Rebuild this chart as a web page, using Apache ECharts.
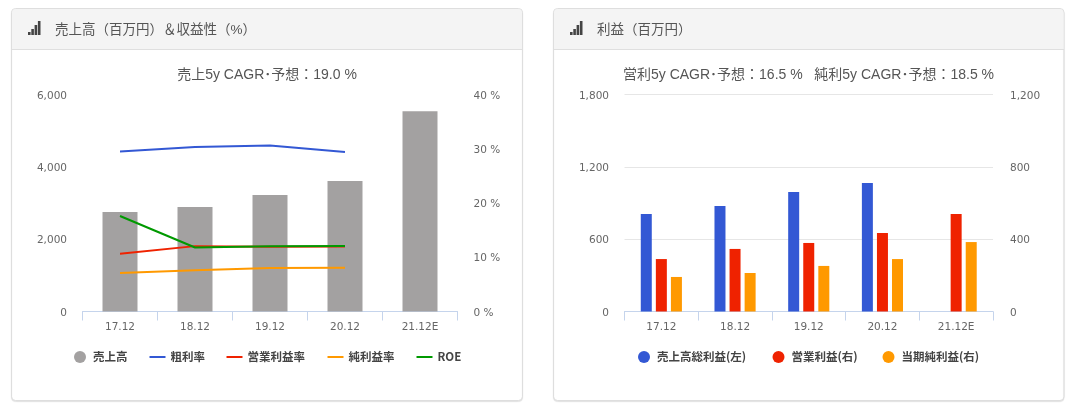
<!DOCTYPE html>
<html><head><meta charset="utf-8">
<style>html,body{margin:0;padding:0;background:#fff}#c{width:1072px;height:414px}</style>
<script src="https://cdn.jsdelivr.net/npm/echarts@6/dist/echarts.min.js"></script>
</head><body><div id="c"></div>
<script>
const categories = ['17.12','18.12','19.12','20.12','21.12E'];
const sales = [2750, 2890, 3220, 3610, 5540];
const grossMargin = [29.5, 30.3, 30.6, 29.4, null];
const opMargin = [10.65, 12.05, 11.95, 12.0, null];
const netMargin = [7.1, 7.6, 8.0, 8.07, null];
const roe = [17.6, 11.8, 12.05, 12.07, null];
const grossProfit = [809, 875, 991, 1066, null];
const opProfit = [290, 346, 379, 434, 539];
const netProfit = [191, 213, 252, 290, 384];

const CJK = '"Liberation Sans","Noto Sans CJK JP",sans-serif';
const LEG = '"Noto Sans CJK JP",sans-serif';
const TICK = '"DejaVu Sans","Noto Sans CJK JP",sans-serif';
const GRAY='#a3a1a1', BLUE='#3358d4', RED='#ef2200', ORANGE='#ff9900', GREEN='#009900';
const fmt = v => Number(v).toLocaleString('en-US');

function panel(x, w, title){
  const iconX = x + 16.5;
  const bars = [[0,3],[3.3,6],[6.6,10],[9.9,14]].map(([dx,h]) => ({
    type:'rect', silent:true, shape:{x:iconX+dx, y:35-h, width:2.6, height:h}, style:{fill:'#444'}
  }));
  return [
    {type:'rect',silent:true,shape:{x:x,y:8.5,width:w,height:392,r:4},style:{fill:'#fff',stroke:'#dedede',lineWidth:1,shadowBlur:1,shadowColor:'#e2e2e2',shadowOffsetY:1}},
    {type:'rect',silent:true,shape:{x:x+0.5,y:9,width:w-1,height:40.5,r:[4,4,0,0]},style:{fill:'#f4f4f4'}},
    {type:'line',silent:true,shape:{x1:x,y1:49.5,x2:x+w,y2:49.5},style:{stroke:'#dfdfdf',lineWidth:1}},
    ...bars,
    {type:'text',silent:true,x:x+43.5,y:30,style:{text:title,font:'13.5px '+CJK,fill:'#555',textVerticalAlign:'middle'}}
  ];
}
function legend(name,left,line){
  return {show:true,selectedMode:false,left:left,top:351,data:[name],orient:'horizontal',padding:0,
    icon:line?'rect':'circle',itemWidth:line?16:12,itemHeight:line?2:12,itemGap:0,
    textStyle:{fontFamily:LEG,fontSize:11.5,fontWeight:'bold',color:'#444',padding:[0,0,0,line?0:2],height:12,lineHeight:12}};
}
function xAxis(i){
  return {type:'category',gridIndex:i,data:categories,boundaryGap:true,
    axisLine:{show:true,lineStyle:{color:'#c5d4ec',width:1}},
    axisTick:{show:true,alignWithLabel:false,length:9,lineStyle:{color:'#c5d4ec',width:1}},
    axisLabel:{color:'#666',fontFamily:TICK,fontSize:10.5,margin:11,interval:0}};
}
function yAxis(i,max,step,pos,margin,grid,suffix){
  return {type:'value',gridIndex:i,min:0,max:max,interval:step,position:pos,
    axisLine:{show:false},axisTick:{show:false},
    splitLine:{show:grid,lineStyle:{color:'#e6e6e6',width:1}},
    axisLabel:{color:'#666',fontFamily:TICK,fontSize:10.5,margin:margin,verticalAlign:'top',lineHeight:3,
      formatter:v=>fmt(v)+(suffix||'')}};
}
function lineS(name,data,color){
  return {name,type:'line',xAxisIndex:0,yAxisIndex:1,data,symbol:'none',connectNulls:false,
    lineStyle:{color,width:2},itemStyle:{color},z:5};
}
function barS(name,data,color,yi){
  return {name,type:'bar',xAxisIndex:1,yAxisIndex:yi,data,barWidth:11,barGap:'37%',itemStyle:{color}};
}
const chart = echarts.init(document.getElementById('c'),null,{renderer:'canvas'});
chart.setOption({
  animation:false,
  backgroundColor:'#fff',
  title:[
    {text:'売上5y CAGR･予想：19.0 %',left:267,top:68,textAlign:'center',padding:0,textStyle:{fontFamily:CJK,fontSize:14,fontWeight:'normal',color:'#555'}},
    {text:'営利5y CAGR･予想：16.5 %   純利5y CAGR･予想：18.5 %',left:808.5,top:68,textAlign:'center',padding:0,textStyle:{fontFamily:CJK,fontSize:14,fontWeight:'normal',color:'#555'}}
  ],
  grid:[
    {left:82.5,top:94.5,width:375,height:217,containLabel:false},
    {left:624.5,top:94.5,width:368.5,height:217,containLabel:false}
  ],
  legend:[
    legend('売上高',74,false),legend('粗利率',149.5,true),legend('営業利益率',226.5,true),legend('純利益率',327.5,true),legend('ROE',416.5,true),
    legend('売上高総利益(左)',638,false),legend('営業利益(右)',772.5,false),legend('当期純利益(右)',882.5,false)
  ],
  xAxis:[xAxis(0),xAxis(1)],
  yAxis:[
    yAxis(0,6000,2000,'left',15.5,false),
    yAxis(0,40,10,'right',16,false,' %'),
    yAxis(1,1800,600,'left',15.5,true),
    yAxis(1,1200,400,'right',17,false)
  ],
  series:[
    {name:'売上高',type:'bar',xAxisIndex:0,yAxisIndex:0,data:sales,barWidth:35,itemStyle:{color:GRAY}},
    lineS('粗利率',grossMargin,BLUE),
    lineS('営業利益率',opMargin,RED),
    lineS('純利益率',netMargin,ORANGE),
    lineS('ROE',roe,GREEN),
    barS('売上高総利益(左)',grossProfit,BLUE,2),
    barS('営業利益(右)',opProfit,RED,3),
    barS('当期純利益(右)',netProfit,ORANGE,3)
  ],
  graphic:{elements:[...panel(11.5,511,'売上高（百万円）＆収益性（%）'),...panel(553.5,510.5,'利益（百万円）')]}
});
</script></body></html>
